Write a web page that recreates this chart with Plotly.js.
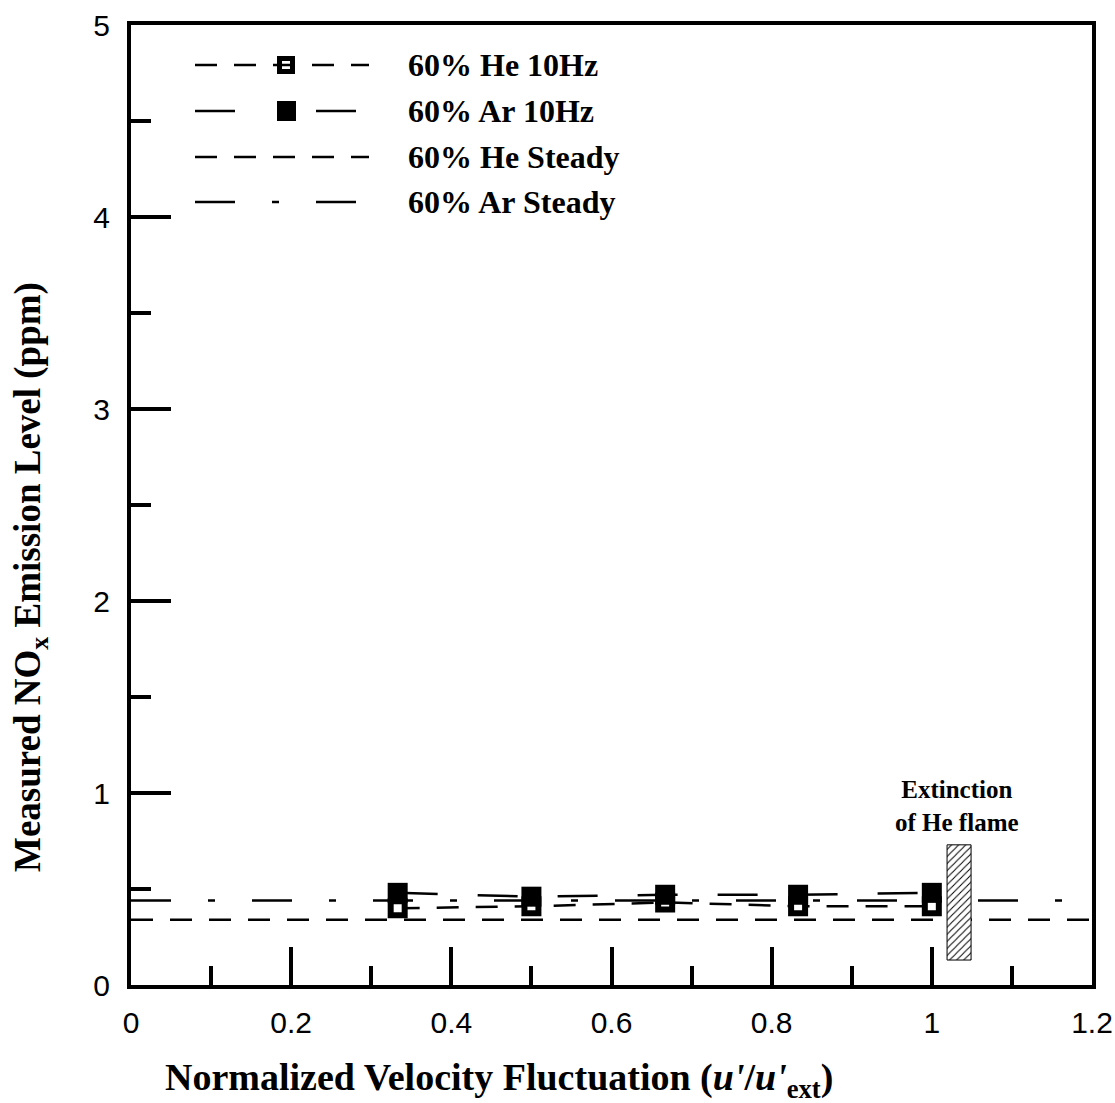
<!DOCTYPE html>
<html>
<head>
<meta charset="utf-8">
<script src="https://cdn.plot.ly/plotly-3.0.1.min.js"></script>
<style>
  html, body { margin: 0; padding: 0; background: #ffffff; }
  #chart { width: 1115px; height: 1103px; }
</style>
</head>
<body>
<div id="chart"></div>
<script>
// Normalized velocity fluctuation u'/u'ext at which NOx was measured
const velocity = [0.333, 0.5, 0.667, 0.833, 1.0];
// Measured NOx (ppm), 10 Hz forcing
const he10Hz = [0.40, 0.41, 0.43, 0.41, 0.41];
const ar10Hz = [0.48, 0.46, 0.47, 0.47, 0.48];
// Steady (unforced) levels, drawn across the whole axis
const steadyX = [0, 1.2];
const heSteady = [0.34, 0.34];
const arSteady = [0.44, 0.44];
// Band marking where the He flame goes out
const extinctionX = [1.019, 1.049];
const extinctionY = [0.13, 0.73];
// Legend entries
const seriesNames = ['60% He 10Hz', '60% Ar 10Hz', '60% He Steady', '60% Ar Steady'];

const SERIF = 'Liberation Serif, Times New Roman, serif';
const SANS = 'Liberation Sans, Arial, sans-serif';

const heDash = '22px,17px';
const arDash = '40px,40px';
const arSteadyDash = '40px,37px,7px,37px';

const traces = [
  { x: steadyX, y: heSteady, mode: 'lines', name: seriesNames[2], showlegend: false,
    line: { color: '#000', width: 2.5, dash: heDash } },
  { x: steadyX, y: arSteady, mode: 'lines', name: seriesNames[3], showlegend: false,
    line: { color: '#000', width: 2.5, dash: arSteadyDash } },
  { x: velocity, y: he10Hz, mode: 'lines+markers', name: seriesNames[0], showlegend: false,
    line: { color: '#000', width: 2.5, dash: heDash },
    marker: { symbol: 'square', size: 14, color: '#fff', line: { color: '#000', width: 6 } } },
  { x: velocity, y: ar10Hz, mode: 'lines+markers', name: seriesNames[1], showlegend: false,
    line: { color: '#000', width: 2.5, dash: arDash },
    marker: { symbol: 'square', size: 20, color: '#000', line: { width: 0 } } },
  { x: [extinctionX[0], extinctionX[1], extinctionX[1], extinctionX[0], extinctionX[0]],
    y: [extinctionY[0], extinctionY[0], extinctionY[1], extinctionY[1], extinctionY[0]],
    mode: 'lines', fill: 'toself', fillcolor: '#fff', showlegend: false, hoverinfo: 'skip',
    fillpattern: { shape: '/', fgcolor: '#000', bgcolor: '#fff', size: 5, solidity: 0.2 },
    line: { color: '#000', width: 1 } }
];

// Plot area in pixels (for placing the hand-built legend)
const PL = 131, PR = 1092, PT = 25, PB = 985;
const px = v => (v - PL) / (PR - PL);
const py = v => (PB - v) / (PB - PT);

const legendRows = [65, 111, 157, 202];
const legendDash = [heDash, '40px,81px', heDash, arSteadyDash];
const legendEnd = [369, 356, 369, 356];
const shapes = [];
const annotations = [];

// marker samples first, so the dashed line shows through the open square
shapes.push({ type: 'rect', xref: 'paper', yref: 'paper',
  x0: px(279.5), x1: px(292.5), y0: py(legendRows[0] + 6.5), y1: py(legendRows[0] - 6.5),
  fillcolor: '#fff', line: { color: '#000', width: 5 } });
legendRows.forEach((r, i) => {
  shapes.push({ type: 'line', xref: 'paper', yref: 'paper',
    x0: px(195), x1: px(legendEnd[i]), y0: py(r), y1: py(r),
    line: { color: '#000', width: 2.5, dash: legendDash[i] } });
  annotations.push({ xref: 'paper', yref: 'paper', x: px(406), y: py(r),
    xanchor: 'left', yanchor: 'middle', showarrow: false,
    text: '<b>' + seriesNames[i] + '</b>', font: { family: SERIF, size: 32, color: '#000' } });
});
shapes.push({ type: 'rect', xref: 'paper', yref: 'paper',
  x0: px(277), x1: px(296), y0: py(legendRows[1] + 10), y1: py(legendRows[1] - 10),
  fillcolor: '#000', line: { width: 0 } });

// axis titles
annotations.push({ xref: 'paper', yref: 'paper', x: px(499), y: py(1080),
  xanchor: 'center', yanchor: 'middle', showarrow: false,
  text: "<b>Normalized Velocity Fluctuation (<i>u'</i>/<i>u'</i><sub>ext</sub>)</b>",
  font: { family: SERIF, size: 38, color: '#000' } });
annotations.push({ xref: 'paper', yref: 'paper', x: px(30), y: py(577),
  xanchor: 'center', yanchor: 'middle', showarrow: false, textangle: -90,
  text: '<b>Measured NO<sub>x</sub> Emission Level (ppm)</b>',
  font: { family: SERIF, size: 37, color: '#000' } });
// note above the extinction band
annotations.push({ xref: 'x', yref: 'y', x: 1.031, y: 0.93,
  xanchor: 'center', yanchor: 'middle', showarrow: false, align: 'center',
  text: '<b>Extinction<br>of He flame</b>',
  font: { family: SERIF, size: 25, color: '#000' } });

const axisCommon = {
  showline: true, linewidth: 4, linecolor: '#000', mirror: true,
  showgrid: false, zeroline: false, ticks: 'inside', tickwidth: 4, tickcolor: '#000',
  tickfont: { family: SANS, size: 30, color: '#000' }
};

const layout = {
  width: 1115, height: 1103,
  margin: { l: PL, r: 1115 - PR, t: PT, b: 1103 - PB },
  paper_bgcolor: '#fff', plot_bgcolor: '#fff',
  showlegend: false,
  xaxis: Object.assign({}, axisCommon, {
    range: [0, 1.2], tick0: 0, dtick: 0.2, ticklen: 38, ticklabelstandoff: 8,
    minor: { dtick: 0.1, ticks: 'inside', ticklen: 19, tickwidth: 4, tickcolor: '#000', showgrid: false }
  }),
  yaxis: Object.assign({}, axisCommon, {
    range: [0, 5], tick0: 0, dtick: 1, ticklen: 40, ticklabelstandoff: 11,
    minor: { dtick: 0.5, ticks: 'inside', ticklen: 20, tickwidth: 4, tickcolor: '#000', showgrid: false }
  }),
  shapes: shapes,
  annotations: annotations
};

Plotly.newPlot('chart', traces, layout, { displayModeBar: false, staticPlot: true });
</script>
</body>
</html>
